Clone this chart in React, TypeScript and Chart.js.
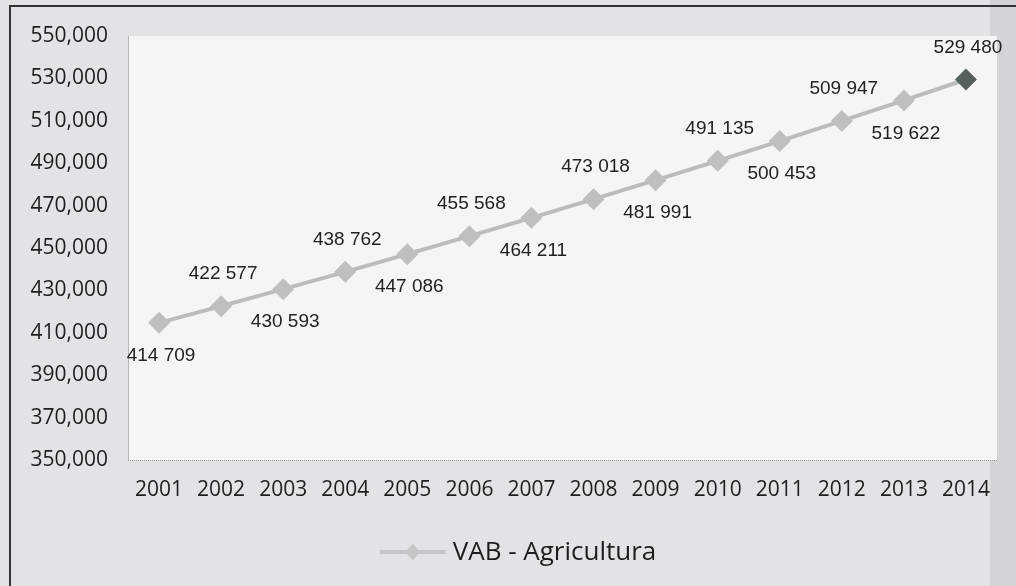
import React, { useEffect, useRef } from "react";
import { Chart, registerables } from "chart.js";

Chart.register(...registerables);

const years = ["2001", "2002", "2003", "2004", "2005", "2006", "2007", "2008", "2009", "2010", "2011", "2012", "2013", "2014"];
const vabAgricultura = [414709, 422577, 430593, 438762, 447086, 455568, 464211, 473018, 481991, 491135, 500453, 509947, 519622, 529480];
const seriesLabel = "VAB - Agricultura";
const yMin = 350000;
const yMax = 550000;
const yStep = 20000;

const fmtLabel = (v: number) => {
  const s = String(Math.round(v));
  return s.replace(/\B(?=(\d{3})+(?!\d))/g, " ");
};
const fmtTick = (v: number) => {
  const s = String(Math.round(v));
  return s.replace(/\B(?=(\d{3})+(?!\d))/g, ",");
};

const bgPlugin = {
  id: "bgPlugin",
  beforeDraw(chart: any) {
    const { ctx, chartArea, width, height } = chart;
    ctx.save();
    ctx.fillStyle = "#e3e3e5";
    ctx.fillRect(0, 0, width, height);
    ctx.fillStyle = "#d4d4d7";
    ctx.fillRect(990, 0, width - 990, height);
    ctx.strokeStyle = "#333";
    ctx.lineWidth = 2;
    ctx.beginPath();
    ctx.moveTo(10, height);
    ctx.lineTo(10, 6);
    ctx.lineTo(width, 6);
    ctx.stroke();
    ctx.fillStyle = "#f5f5f5";
    ctx.fillRect(chartArea.left, chartArea.top, chartArea.right - chartArea.left, chartArea.bottom - chartArea.top);
    ctx.strokeStyle = "#b8b8b8";
    ctx.lineWidth = 1;
    ctx.beginPath();
    ctx.moveTo(chartArea.left + 0.5, chartArea.top);
    ctx.lineTo(chartArea.left + 0.5, chartArea.bottom);
    ctx.stroke();
    ctx.strokeStyle = "#999";
    ctx.setLineDash([1, 1]);
    ctx.beginPath();
    ctx.moveTo(chartArea.left, chartArea.bottom + 0.5);
    ctx.lineTo(chartArea.right, chartArea.bottom + 0.5);
    ctx.stroke();
    ctx.restore();
  },
};

const labelPlugin = {
  id: "labelPlugin",
  afterDatasetsDraw(chart: any) {
    const { ctx } = chart;
    const meta = chart.getDatasetMeta(0);
    const data = chart.data.datasets[0].data as number[];
    ctx.save();
    ctx.font = "19px 'Liberation Sans', Arial, sans-serif";
    ctx.fillStyle = "#222";
    ctx.textAlign = "center";
    ctx.textBaseline = "middle";
    meta.data.forEach((pt: any, i: number) => {
      const above = i % 2 === 1;
      const dy = above ? -32 : 33;
      ctx.fillText(fmtLabel(data[i]), pt.x + 2, pt.y + dy);
    });
    ctx.restore();
  },
};

const legendPlugin = {
  id: "legendPlugin",
  afterDraw(chart: any) {
    const { ctx } = chart;
    const label = chart.data.datasets[0].label as string;
    ctx.save();
    const cy = 552;
    ctx.font = "26px 'Open Sans', sans-serif";
    const tw = ctx.measureText(label).width;
    const lineW = 66;
    const gap = 7;
    const total = lineW + gap + tw;
    const x0 = (chart.width + 20) / 2 - total / 2;
    ctx.strokeStyle = "#c4c4c4";
    ctx.lineWidth = 4;
    ctx.beginPath();
    ctx.moveTo(x0, cy);
    ctx.lineTo(x0 + lineW, cy);
    ctx.stroke();
    const mx = x0 + lineW / 2;
    ctx.fillStyle = "#c6c6c6";
    ctx.beginPath();
    ctx.moveTo(mx, cy - 8);
    ctx.lineTo(mx + 8, cy);
    ctx.lineTo(mx, cy + 8);
    ctx.lineTo(mx - 8, cy);
    ctx.closePath();
    ctx.fill();
    ctx.fillStyle = "#1e1e1e";
    ctx.textAlign = "left";
    ctx.textBaseline = "middle";
    ctx.fillText(label, x0 + lineW + gap, cy + 1);
    ctx.restore();
  },
};

export default function App() {
  const ref = useRef<HTMLCanvasElement | null>(null);
  useEffect(() => {
    if (!ref.current) return;
    const last = vabAgricultura.length - 1;
    const chart = new Chart(ref.current, {
      type: "line",
      data: {
        labels: years,
        datasets: [
          {
            label: seriesLabel,
            data: vabAgricultura,
            borderColor: "#bcbcbc",
            borderWidth: 4,
            pointStyle: "rectRot",
            pointRadius: 11,
            pointBorderWidth: 0,
            pointBackgroundColor: (c: any) => (c.dataIndex === last ? "#56605a" : "#bfbfbf"),
            pointBorderColor: "rgba(0,0,0,0)",
            tension: 0,
          },
        ],
      },
      plugins: [bgPlugin, labelPlugin, legendPlugin],
      options: {
        animation: false,
        responsive: false,
        maintainAspectRatio: false,
        layout: { padding: { left: 0, top: 36, right: 19, bottom: 0 } },
        plugins: {
          legend: { display: false },
          tooltip: { enabled: false },
        },
        scales: {
          x: {
            type: "category",
            offset: true,
            grid: { display: false, drawTicks: false },
            border: { display: false },
            ticks: {
              color: "#1e1e1e",
              font: { family: "'Open Sans', sans-serif", size: 21 },
              padding: 17,
              maxRotation: 0,
              autoSkip: false,
            },
            afterFit: (s: any) => {
              s.height = 586 - 460;
            },
          },
          y: {
            min: yMin,
            max: yMax,
            grid: { display: false, drawTicks: false },
            border: { display: false },
            ticks: {
              stepSize: yStep,
              color: "#1e1e1e",
              font: { family: "'Open Sans', sans-serif", size: 21 },
              padding: 20,
              callback: (v: any) => fmtTick(Number(v)),
            },
            afterFit: (s: any) => {
              s.width = 128;
            },
          },
        },
      } as any,
    });
    return () => chart.destroy();
  }, []);
  return (
    <div style={{ position: "absolute", left: 0, top: 0, width: 1016, height: 586 }}>
      <canvas ref={ref} width={1016} height={586} style={{ display: "block", width: 1016, height: 586 }} />
    </div>
  );
}
